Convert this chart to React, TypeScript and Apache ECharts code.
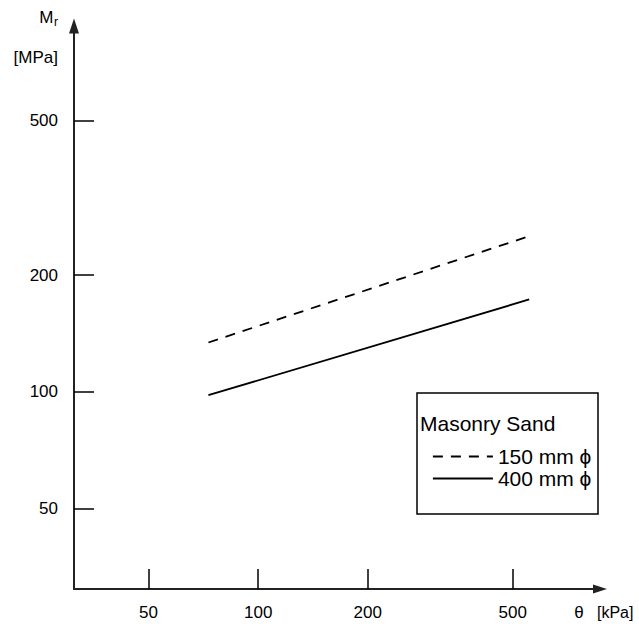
import React, { useEffect, useRef } from "react";
import * as echarts from "echarts";

// Axis ranges (log scales) and tick labels
const X_MIN = 31.2;
const X_MAX = 868.6;
const Y_MIN = 31.0;
const Y_MAX = 877.7;
const X_TICKS = [50, 100, 200, 500];
const Y_TICKS = [50, 100, 200, 500];

// Series (theta [kPa], Mr [MPa])
const SERIES_NAMES = ["150 mm ϕ", "400 mm ϕ"];
const THETA = [73, 555];
const MR_150 = [134, 252];
const MR_400 = [98, 173];

const LEGEND_TITLE = "Masonry Sand";
const FONT = "Liberation Sans, Arial, sans-serif";

export default function App() {
  const ref = useRef<HTMLDivElement>(null);

  useEffect(() => {
    document.body.style.margin = "0";
    const chart = echarts.init(ref.current!, null, { renderer: "svg" });
    const axisLine = (sym: [number, number]) => ({
      show: true,
      symbol: ["none", "triangle"],
      symbolSize: sym,
      lineStyle: { color: "#222", width: 2 },
    });
    chart.setOption({
      animation: false,
      backgroundColor: "#fff",
      textStyle: { fontFamily: FONT, color: "#000" },
      grid: {
        left: 74,
        right: 39,
        top: 26,
        bottom: 35,
        containLabel: false,
        outerBoundsMode: "none",
      },
      legend: {
        show: true,
        orient: "vertical",
        left: 432,
        top: 446,
        padding: 0,
        itemWidth: 60,
        itemHeight: 20,
        itemGap: 1,
        selectedMode: false,
        data: SERIES_NAMES,
        itemStyle: { color: "rgba(0,0,0,0)", borderWidth: 0, opacity: 0 },
        lineStyle: { color: "#000", width: 1.8 },
        textStyle: { fontSize: 21, color: "#000", fontFamily: FONT },
      },
      xAxis: {
        type: "log",
        logBase: 10,
        min: X_MIN,
        max: X_MAX,
        axisLine: axisLine([9, 14]),
        axisTick: {
          show: true,
          inside: true,
          length: 20,
          customValues: X_TICKS,
          lineStyle: { color: "#000", width: 1.5 },
        },
        axisLabel: {
          show: true,
          customValues: X_TICKS,
          margin: 15,
          fontSize: 17,
          color: "#000",
          fontFamily: FONT,
        },
        splitLine: { show: false },
        minorTick: { show: false },
      },
      yAxis: {
        type: "log",
        logBase: 10,
        min: Y_MIN,
        max: Y_MAX,
        axisLine: axisLine([10, 15]),
        axisTick: {
          show: true,
          inside: true,
          length: 20,
          customValues: Y_TICKS,
          lineStyle: { color: "#000", width: 1.5 },
        },
        axisLabel: {
          show: true,
          customValues: Y_TICKS,
          margin: 16,
          fontSize: 17,
          color: "#000",
          fontFamily: FONT,
        },
        splitLine: { show: false },
        minorTick: { show: false },
      },
      series: [
        {
          name: SERIES_NAMES[0],
          type: "line",
          symbol: "none",
          silent: true,
          color: "#000",
          lineStyle: { color: "#000", width: 1.8, type: [10, 8] },
          data: THETA.map((t, i) => [t, MR_150[i]]),
        },
        {
          name: SERIES_NAMES[1],
          type: "line",
          symbol: "none",
          silent: true,
          color: "#000",
          lineStyle: { color: "#000", width: 1.8, type: "solid" },
          data: THETA.map((t, i) => [t, MR_400[i]]),
        },
      ],
      graphic: [
        {
          type: "text",
          x: 53.5,
          y: 17,
          style: { text: "M", fontSize: 17, fontFamily: FONT, fill: "#000", align: "right", verticalAlign: "middle" },
        },
        {
          type: "text",
          x: 54,
          y: 22,
          style: { text: "r", fontSize: 12, fontFamily: FONT, fill: "#000", align: "left", verticalAlign: "middle" },
        },
        {
          type: "text",
          x: 58,
          y: 57,
          style: { text: "[MPa]", fontSize: 17, fontFamily: FONT, fill: "#000", align: "right", verticalAlign: "middle" },
        },
        {
          type: "text",
          x: 579,
          y: 612,
          style: { text: "θ", fontSize: 17, fontFamily: FONT, fill: "#000", align: "center", verticalAlign: "middle" },
        },
        {
          type: "text",
          x: 597,
          y: 612,
          style: { text: "[kPa]", fontSize: 16, fontFamily: FONT, fill: "#000", align: "left", verticalAlign: "middle" },
        },
        {
          type: "rect",
          shape: { x: 417, y: 393, width: 181, height: 121 },
          style: { fill: "none", stroke: "#000", lineWidth: 1.5 },
        },
        {
          type: "text",
          x: 420,
          y: 423,
          style: { text: LEGEND_TITLE, fontSize: 21, fontFamily: FONT, fill: "#000", align: "left", verticalAlign: "middle" },
        },
      ],
    });
    return () => chart.dispose();
  }, []);

  return <div ref={ref} style={{ width: 639, height: 624 }} />;
}
